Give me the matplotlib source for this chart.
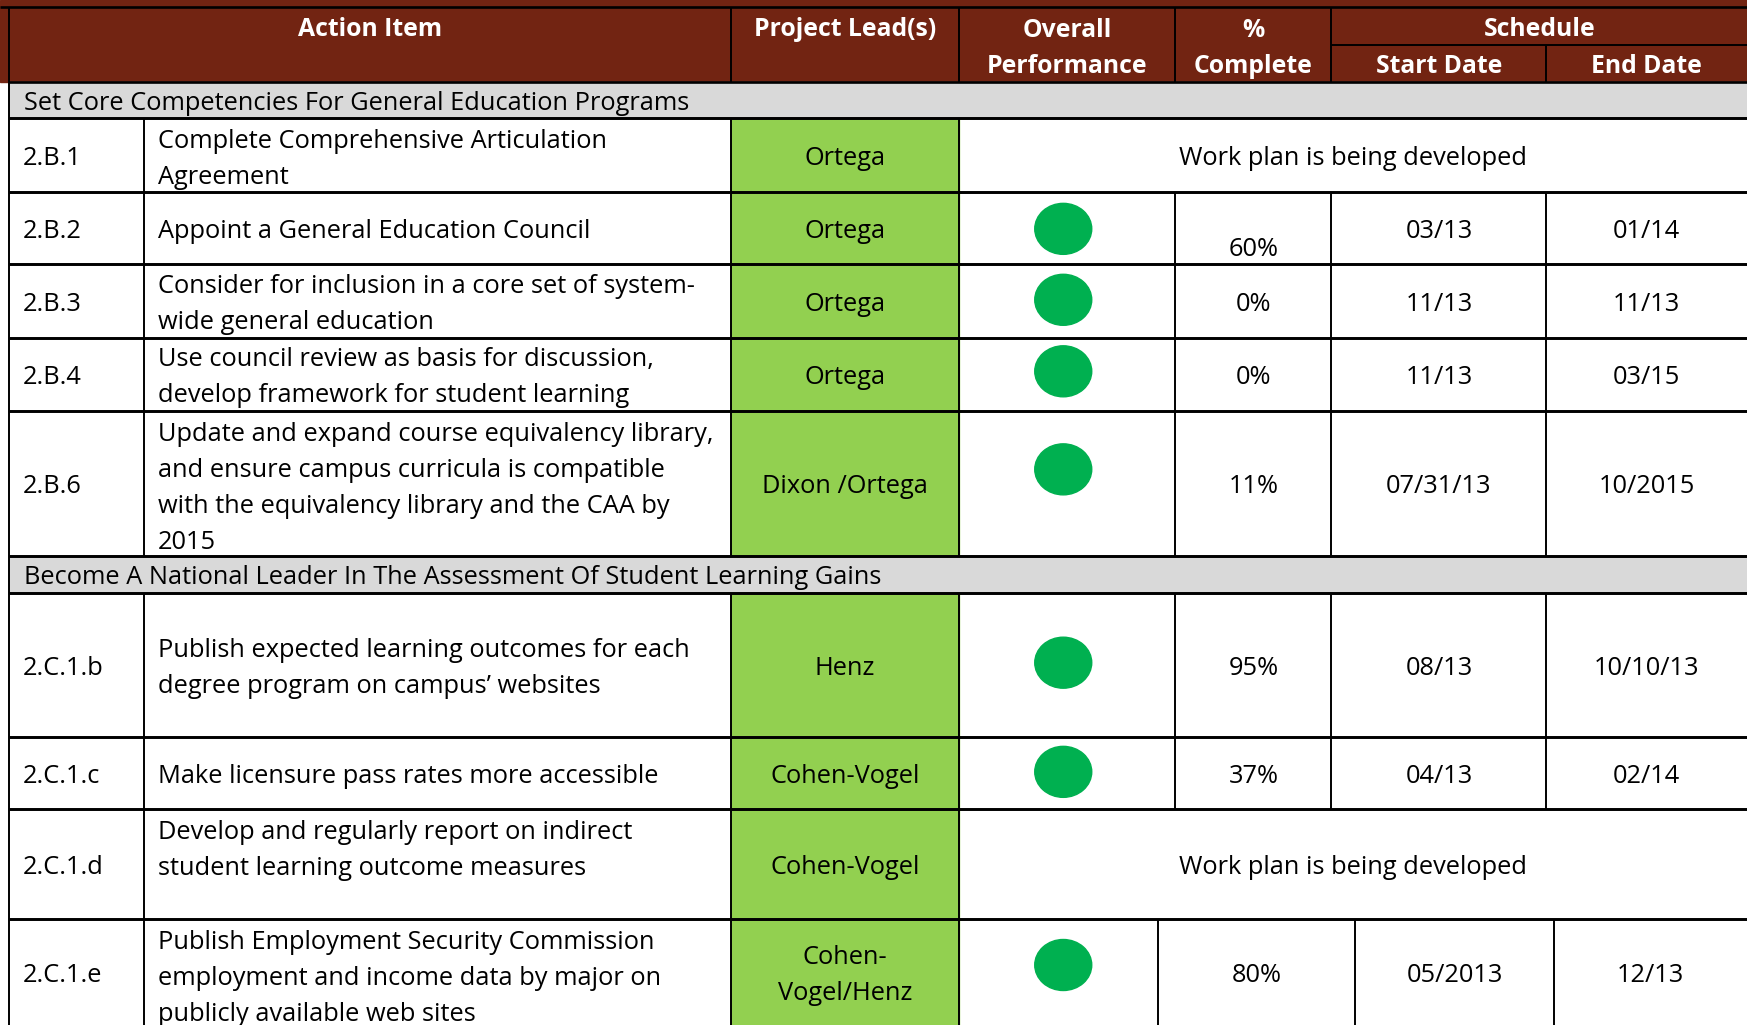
import matplotlib
matplotlib.use("Agg")
import matplotlib.pyplot as plt
from matplotlib.patches import Rectangle, Ellipse

# ---------------- data ----------------
section_titles = [
    "Set Core Competencies For General Education Programs",
    "Become A National Leader In The Assessment Of Student Learning Gains",
]
item_ids = ["2.B.1", "2.B.2", "2.B.3", "2.B.4", "2.B.6",
            "2.C.1.b", "2.C.1.c", "2.C.1.d", "2.C.1.e"]
item_section = [0, 0, 0, 0, 0, 1, 1, 1, 1]
actions = [
    "Complete Comprehensive Articulation\nAgreement",
    "Appoint a General Education Council",
    "Consider for inclusion in a core set of system-\nwide general education",
    "Use council review as basis for discussion,\ndevelop framework for student learning",
    "Update and expand course equivalency library,\nand ensure campus curricula is compatible\nwith the equivalency library and the CAA by\n2015",
    "Publish expected learning outcomes for each\ndegree program on campus\u2019 websites",
    "Make licensure pass rates more accessible",
    "Develop and regularly report on indirect\nstudent learning outcome measures",
    "Publish Employment Security Commission\nemployment and income data by major on\npublicly available web sites",
]
leads = ["Ortega", "Ortega", "Ortega", "Ortega", "Dixon /Ortega",
         "Henz", "Cohen-Vogel", "Cohen-Vogel", "Cohen-\nVogel/Henz"]
performance = [None, "green", "green", "green", "green",
               "green", "green", None, "green"]
pct_complete = [None, 60, 0, 0, 11, 95, 37, None, 80]
start_dates = [None, "03/13", "11/13", "11/13", "07/31/13",
               "08/13", "04/13", None, "05/2013"]
end_dates = [None, "01/14", "11/13", "03/15", "10/2015",
             "10/10/13", "02/14", None, "12/13"]
work_plan_note = "Work plan is being developed"

header_labels = ["Action Item", "Project Lead(s)", "Overall\nPerformance",
                 "%\nComplete", "Schedule", "Start Date", "End Date"]

# ---------------- layout (pixels) ----------------
W, H = 1747, 1025
BROWN = "#722412"
GREEN_COL = "#92D050"
GREEN_DOT = "#00B050"
GREY = "#D9D9D9"

x_left = 9
col_x = [9, 144, 731, 959, 1175.5, 1331.5, 1546.5, 1747]
col_x_last = [9, 144, 731, 959, 1157.6, 1355, 1554, 1747]
header_top, header_split, header_bottom = 7.3, 45, 81.7
section_h = [81.7, 555.7]          # section row tops
section_bottom = [118, 592.7]
row_tops = [118, 191.7, 264, 337.6, 411, 592.7, 736.7, 809, 919]
row_bots = [191.7, 264, 337.6, 411, 555.7, 736.7, 809, 919, 1025]
action_valign = ["top", "center", "center", "center", "top",
                 "center", "center", "top", "top"]
dot_dy = [0, 1, -1, -3, -14, -2, -1, 0, -7]     # placement nudges of the dots
pct_dy = [0, 18, 0, 0, 0, 0, 0, 0, 0]           # placement nudges of % text
LINE = 36
FS = 18.3
FS_H = 17.8
DY = 3.5
HLW = 1.9
VLW = 1.4

plt.rcParams["font.family"] = ["Open Sans", "DejaVu Sans"]

fig = plt.figure(figsize=(W / 100, H / 100), dpi=100)
ax = fig.add_axes([0, 0, 1, 1])
ax.set_xlim(0, W)
ax.set_ylim(H, 0)
ax.axis("off")


def txt(x, y, s, ha="center", fs=FS, **kw):
    ax.text(x, y + DY, s, ha=ha, va="center", fontsize=fs, zorder=6, **kw)


def multiline(x, y, text, ha="center", va="center", top=None, fs=FS, **kw):
    lines = text.split("\n")
    n = len(lines)
    for i, ln in enumerate(lines):
        if va == "top":
            yy = top + 20 + i * LINE
        else:
            yy = y + (i - (n - 1) / 2) * LINE
        txt(x, yy, ln, ha=ha, fs=fs, **kw)


def hline(y, x0=x_left, x1=W, lw=HLW):
    ax.plot([x0, x1], [y, y], color="black", lw=lw, solid_capstyle="butt", zorder=5)


def vline(x, y0, y1, lw=VLW):
    ax.plot([x, x], [y0, y1], color="black", lw=lw, solid_capstyle="butt", zorder=5)


# header background
ax.add_patch(Rectangle((0, 0), W, header_bottom, color=BROWN, zorder=1))
hline(header_top, 0, W)
vline(x_left, header_top, header_bottom)
for cx in col_x[2:6]:
    vline(cx, header_top, header_bottom)
hline(header_split, col_x[5], W, lw=VLW)
vline(col_x[6], header_split, header_bottom)

hdr_kw = dict(color="white", fontweight="bold", fs=FS_H)
ty1, ty2 = 26.5, 63
multiline((col_x[0] + col_x[2]) / 2, ty1, header_labels[0], **hdr_kw)
multiline((col_x[2] + col_x[3]) / 2, ty1, header_labels[1], **hdr_kw)
multiline((col_x[3] + col_x[4]) / 2, (ty1 + ty2) / 2, header_labels[2], **hdr_kw)
multiline((col_x[4] + col_x[5]) / 2, (ty1 + ty2) / 2, header_labels[3], **hdr_kw)
multiline((col_x[5] + col_x[7]) / 2, ty1, header_labels[4], **hdr_kw)
multiline((col_x[5] + col_x[6]) / 2, ty2, header_labels[5], **hdr_kw)
multiline((col_x[6] + col_x[7]) / 2, ty2, header_labels[6], **hdr_kw)

# section rows
for s, title in enumerate(section_titles):
    top, bot = section_h[s], section_bottom[s]
    ax.add_patch(Rectangle((x_left, top), W - x_left, bot - top, color=GREY, zorder=1))
    hline(top)
    hline(bot)
    vline(x_left, top, bot)
    txt(x_left + 15, (top + bot) / 2, title, ha="left")

# item rows
n_items = len(item_ids)
dot_x = (col_x[3] + col_x[4]) / 2 - 4
for i in range(n_items):
    top, bot = row_tops[i], row_bots[i]
    cy = (top + bot) / 2
    last = i == n_items - 1
    cx_ = col_x_last if last else col_x
    ax.add_patch(Rectangle((cx_[2], top), cx_[3] - cx_[2], bot - top,
                           color=GREEN_COL, zorder=1))
    hline(top)
    if not last:
        hline(bot)
    for cx in cx_[0:4]:
        vline(cx, top, bot)
    txt(x_left + 14, cy, item_ids[i], ha="left")
    multiline(cx_[1] + 14, cy, actions[i], ha="left", va=action_valign[i], top=top)
    multiline((cx_[2] + cx_[3]) / 2, cy, leads[i])
    if performance[i] is None:
        txt((cx_[3] + cx_[7]) / 2, cy, work_plan_note)
        continue
    for cx in cx_[4:7]:
        vline(cx, top, bot)
    ax.add_patch(Ellipse((dot_x, cy + dot_dy[i]), 57, 51,
                         color=GREEN_DOT, zorder=3))
    txt((cx_[4] + cx_[5]) / 2, cy + pct_dy[i], f"{pct_complete[i]}%")
    txt((cx_[5] + cx_[6]) / 2, cy, start_dates[i])
    txt((cx_[6] + cx_[7]) / 2, cy, end_dates[i])

fig.savefig("out.png", dpi=100, facecolor="white")
